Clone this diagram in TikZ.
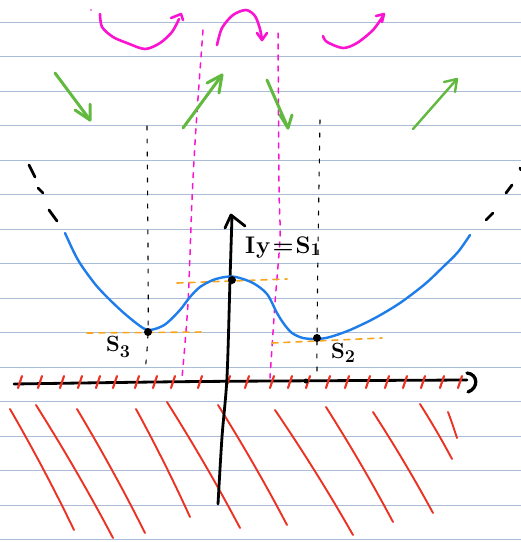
\documentclass[tikz,border=0pt]{standalone}
\definecolor{rulec}{RGB}{170,188,214}
\definecolor{pinkc}{RGB}{250,20,210}
\definecolor{greenc}{RGB}{98,185,64}
\definecolor{redc}{RGB}{235,50,35}
\definecolor{bluec}{RGB}{30,125,235}
\definecolor{orangec}{RGB}{245,165,30}
\begin{document}
\begin{tikzpicture}[x=1pt,y=-1pt,line cap=round,line join=round,
  rule/.style={draw=rulec,line width=1.1pt},
  pinkarrow/.style={draw=pinkc,line width=2.6pt},
  pinkdash/.style={draw=pinkc,line width=1.5pt,dash pattern=on 5pt off 6pt},
  blackdash/.style={draw=black,line width=1.1pt,dash pattern=on 4pt off 9pt},
  orangedash/.style={draw=orangec,line width=1.6pt,dash pattern=on 6pt off 6pt},
  greenarrow/.style={draw=greenc,line width=3pt},
  hatch/.style={draw=redc,line width=1.9pt},
  tick/.style={draw=redc,line width=2.2pt},
  axis/.style={draw=black,line width=2.8pt},
  curve/.style={draw=bluec,line width=2.4pt},
  parab/.style={draw=black,line width=2.8pt},
  pt/.style={circle,fill=black,inner sep=0pt,minimum size=8pt},
  lbl/.style={font=\fontsize{24}{26}\selectfont\bfseries,inner sep=0pt},
  slbl/.style={font=\fontsize{22}{24}\selectfont\bfseries,inner sep=0pt}]
\useasboundingbox (0,0) rectangle (521,542);
\fill[white] (0,0) rectangle (521,542);
\foreach \k in {0,...,15} \draw[rule] (0,{22.3+34.5*\k}) -- (521,{22.3+34.5*\k});

% pink curved arrows
\fill[pinkc] (91,10) circle (0.9pt);
\draw[pinkarrow] plot[smooth] coordinates {(100,14)(102,27)(113,37)(127,43)(145,49)(160,43)(172,32)(179,19)};
\draw[pinkarrow] (171,18) -- (181,14) -- (183,20);
\draw[pinkarrow] plot[smooth] coordinates {(217,45)(222,28)(233,15)(246,10)(255,16)(260,29)(262,40)};
\draw[pinkarrow] (257,33) -- (262,40) -- (267,33);
\draw[pinkarrow] plot[smooth] coordinates {(323,36)(327,42)(343,48)(357,43)(373,30)(383,16)};
\draw[pinkarrow] (376,16) -- (384,14) -- (382,22);

% pink dashed verticals
\draw[pinkdash] plot[smooth] coordinates {(203,30)(196,127)(192,200)(188,303)(182,378)};
\draw[pinkdash] plot[smooth] coordinates {(278,33)(279,187)(280,237)(275,303)(270,378)};

% black dashed verticals
\draw[blackdash] plot[smooth] coordinates {(147,126)(148,250)(148,332)(145,372)};
\draw[blackdash] plot[smooth] coordinates {(320,120)(318,250)(317,338)(317,378)};

% green arrows
\draw[greenarrow] (55,73) -- (90,120);
\draw[greenarrow] (75,110) -- (90,120) -- (90,104);
\draw[greenarrow] (183,128) -- (222,75);
\draw[greenarrow] (207,83) -- (222,75) -- (219,93);
\draw[greenarrow] (267,80) -- (288,128);
\draw[greenarrow] (280,115) -- (288,128) -- (292,115);
\draw[greenarrow,line width=2.4pt] (413,129) -- (457,79);
\draw[greenarrow,line width=2.4pt] (444,82) -- (457,79) -- (455,92);

% black dashed parabola ends
\draw[parab] (29,165) -- (35,177);
\draw[parab] (38,188) -- (43,193);
\draw[parab] (49,210) -- (57,221);
\draw[parab] (520,168) -- (521,170);
\draw[parab] (512,185) -- (506,193);
\draw[parab] (493,213) -- (486,220);

% orange dashed tangents
\draw[orangedash] (87,333) -- (205,332);
\draw[orangedash] (177,283) -- (287,279);
\draw[orangedash] (272,343) -- (382,338);

% red hatching below axis
\foreach \a/\b/\c/\d in {10/409/74/530, 36/405/113/538, 77/409/145/533, 136/409/190/517,
  167/402/240/528, 218/405/287/525, 275/410/353/535, 326/407/393/522, 373/412/433/513,
  420/404/452/459, 448/412/457/438}
  \draw[hatch] (\a,\b) .. controls ({\a+0.36*(\c-\a)},{\b+0.33*(\d-\b)}) and ({\a+0.7*(\c-\a)},{\b+0.67*(\d-\b)}) .. (\c,\d);

% axes
\draw[axis] plot[smooth] coordinates {(14,384)(200,381.5)(467,380)};
\draw[axis,line width=3.3pt] (467,373) .. controls (478,374) and (479,388) .. (468,392);
\foreach \x in {20,40,62,80,98,115,137,155,173,200,228,247,272,290,308,328,347,368,387,405,423,442,460}
  \draw[tick] ({\x+2},376) -- ({\x-2},388);
\draw[axis] plot[smooth] coordinates {(218,504)(222,437)(227,377)(230,280)(232,216)};
\draw[axis] (225,228) -- (231,215) -- (245,226);

% blue curve
\draw[curve] plot[smooth] coordinates {(65,233)(78,260)(95,284)(110,300)(125,314)(140,326)(148,330)(158,328)(167,323)(180,310)(190,297)(200,287)(213,280)(225,277)(236,277)(253,283)(267,294)(277,313)(284,324)(292,333)(303,338)(317,339)(330,337)(350,330)(375,318)(400,303)(425,284)(443,267)(458,252)(470,235)};

% points
\node[pt] (s3) at (148,332) {};
\node[pt] (s1) at (232,280) {};
\node[pt] (s2) at (317,338) {};
\node[pt,minimum size=5pt] (o) at (306,381) {};

% labels
\node[lbl,anchor=west] (l1) at (245,248) {I\kern1pt y\kern2pt=\kern2pt S\raisebox{-2pt}{\fontsize{18}{18}\selectfont 1}};
\node[slbl,anchor=west] (l3) at (106,347) {S\raisebox{-6pt}{\fontsize{18}{18}\selectfont 3}};
\node[slbl,anchor=west] (l2) at (331,353) {S\raisebox{-4pt}{\fontsize{18}{18}\selectfont 2}};
\end{tikzpicture}
\end{document}
